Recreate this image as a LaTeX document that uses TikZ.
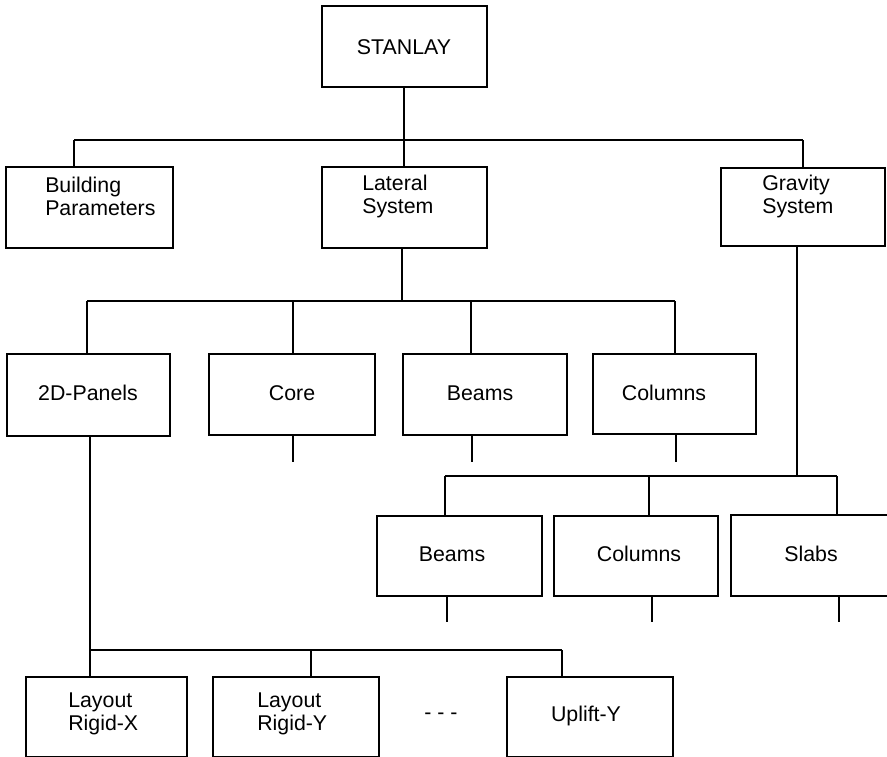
\documentclass[tikz,border=0pt]{standalone}
\usepackage{fontspec}
\setmainfont{Liberation Sans}
\usetikzlibrary{fit}
\begin{document}
\begin{tikzpicture}[x=0.75pt,y=-0.75pt,
  box/.style={draw, line width=0.9pt, inner sep=0pt, outer sep=0pt, rectangle},
  lbl/.style={font=\fontsize{16}{17.25}\selectfont, align=center, inner sep=0pt},
  lbl2/.style={lbl, align=left, anchor=west},
  wire/.style={line width=0.9pt}]
\clip (0,0) rectangle (887,756);
\fill[white] (0,0) rectangle (887,756);

% ---- boxes ----
\node[box, fit={(322,6) (487,87)}]     (stanlay) {};
\node[box, fit={(6,167) (173,248)}]    (building) {};
\node[box, fit={(322,167) (487,248)}]  (lateral) {};
\node[box, fit={(721,168) (885,246)}]  (gravity) {};

\node[box, fit={(7,354) (170,436)}]    (panels) {};
\node[box, fit={(209,354) (375,435)}]  (core) {};
\node[box, fit={(403,354) (567,435)}]  (lbeams) {};
\node[box, fit={(593,354) (756,434)}]  (lcols) {};

\node[box, fit={(377,516) (542,596)}]  (gbeams) {};
\node[box, fit={(554,516) (718,596)}]  (gcols) {};
\node[box, fit={(731,515) (900,596)}]  (slabs) {};

\node[box, fit={(26,677) (187,757)}]   (rigidx) {};
\node[box, fit={(213,677) (379,757)}]  (rigidy) {};
\node[box, fit={(507,677) (673,757)}]  (uplift) {};

% ---- labels ----
\node[lbl]  (stanlay-t)  at (404,47)    {STANLAY};
\node[lbl2] (building-t) at (45,196)    {Building\\Parameters};
\node[lbl2] (lateral-t)  at (362,196)   {Lateral\\System};
\node[lbl2] (gravity-t)  at (762,196)   {Gravity\\System};

\node[lbl] (panels-t)   at (88,393)    {2D-Panels};
\node[lbl] (core-t)     at (292,393)   {Core};
\node[lbl] (lbeams-t)   at (480,393)   {Beams};
\node[lbl] (lcols-t)    at (664,393)   {Columns};

\node[lbl] (gbeams-t)   at (452,554)   {Beams};
\node[lbl] (gcols-t)    at (639,554)   {Columns};
\node[lbl] (slabs-t)    at (811,554)   {Slabs};

\node[lbl2] (rigidx-t)  at (68,714)    {Layout\\Rigid-X};
\node[lbl2] (rigidy-t)  at (257,714)   {Layout\\Rigid-Y};
\node[lbl]  (dots-t)    at (441,716)   {- - -};
\node[lbl]  (uplift-t)  at (586,716)   {Uplift-Y};

% ---- junction points ----
\coordinate (top-j)   at (404,140);
\coordinate (bp-x)    at (74,140);
\coordinate (gr-x)    at (803,140);

\coordinate (lat-j)   at (402,301);
\coordinate (pan-x)   at (87,301);
\coordinate (core-x)  at (293,301);
\coordinate (lbm-x)   at (471,301);
\coordinate (lcl-x)   at (675,301);

\coordinate (core-e)  at (293,462);
\coordinate (lbm-e)   at (472,462);
\coordinate (lcl-e)   at (676,462);

\coordinate (grav-j)  at (797,476);
\coordinate (gbm-x)   at (445,476);
\coordinate (gcl-x)   at (649,476);
\coordinate (slb-x)   at (837,476);

\coordinate (gbm-e)   at (447,622);
\coordinate (gcl-e)   at (652,622);
\coordinate (slb-e)   at (839,622);

\coordinate (pan-j)   at (90,650);
\coordinate (ry-x)    at (311,650);
\coordinate (up-x)    at (562,650);

% ---- connectors ----
\draw[wire] (top-j |- stanlay.south) -- (top-j);
\draw[wire] (bp-x) -- (gr-x);
\draw[wire] (bp-x) -- (bp-x |- building.north);
\draw[wire] (top-j) -- (top-j |- lateral.north);
\draw[wire] (gr-x) -- (gr-x |- gravity.north);

\draw[wire] (lat-j |- lateral.south) -- (lat-j);
\draw[wire] (pan-x) -- (lcl-x);
\draw[wire] (pan-x) -- (pan-x |- panels.north);
\draw[wire] (core-x) -- (core-x |- core.north);
\draw[wire] (lbm-x) -- (lbm-x |- lbeams.north);
\draw[wire] (lcl-x) -- (lcl-x |- lcols.north);

\draw[wire] (core-e |- core.south) -- (core-e);
\draw[wire] (lbm-e |- lbeams.south) -- (lbm-e);
\draw[wire] (lcl-e |- lcols.south) -- (lcl-e);

\draw[wire] (grav-j |- gravity.south) -- (grav-j);
\draw[wire] (gbm-x) -- (slb-x);
\draw[wire] (gbm-x) -- (gbm-x |- gbeams.north);
\draw[wire] (gcl-x) -- (gcl-x |- gcols.north);
\draw[wire] (slb-x) -- (slb-x |- slabs.north);

\draw[wire] (gbm-e |- gbeams.south) -- (gbm-e);
\draw[wire] (gcl-e |- gcols.south) -- (gcl-e);
\draw[wire] (slb-e |- slabs.south) -- (slb-e);

\draw[wire] (pan-j |- panels.south) -- (pan-j);
\draw[wire] (pan-j) -- (up-x);
\draw[wire] (pan-j) -- (pan-j |- rigidx.north);
\draw[wire] (ry-x) -- (ry-x |- rigidy.north);
\draw[wire] (up-x) -- (up-x |- uplift.north);
\end{tikzpicture}
\end{document}
